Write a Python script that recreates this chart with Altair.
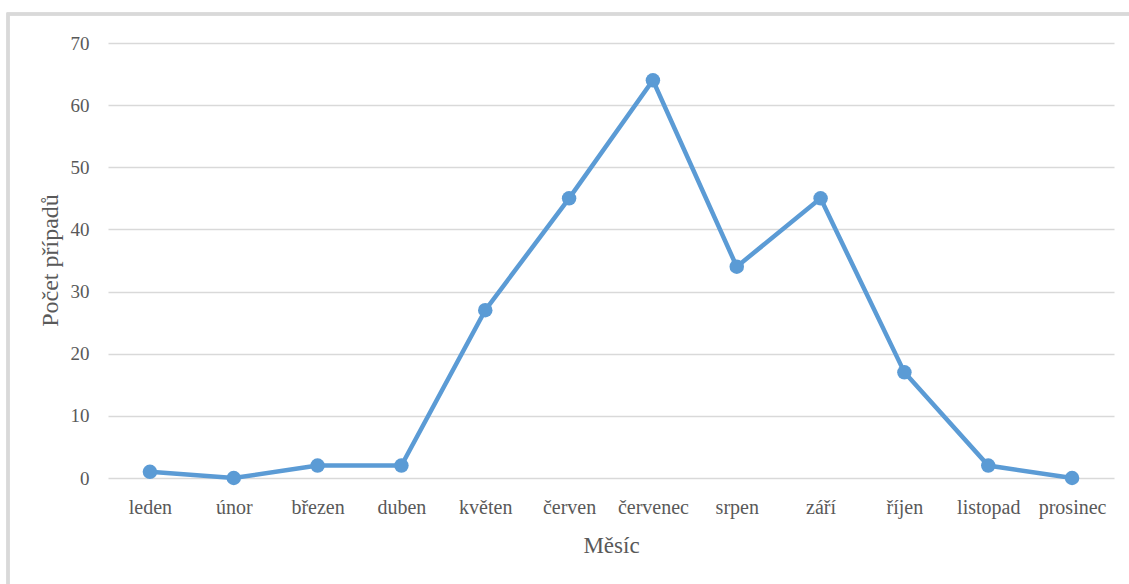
import altair as alt
import pandas as pd

# Monthly case counts
months = ["leden", "únor", "březen", "duben", "květen", "červen",
          "červenec", "srpen", "září", "říjen", "listopad", "prosinec"]
cases = [1, 0, 2, 2, 27, 45, 64, 34, 45, 17, 2, 0]

df = pd.DataFrame({"Měsíc": months, "Počet případů": cases})

FONT = "Liberation Serif"
TEXT = "#595959"
BLUE = "#5b9bd5"

x_enc = alt.X(
    "Měsíc:N",
    sort=months,
    scale=alt.Scale(type="point", padding=0.5),
    axis=alt.Axis(
        title="Měsíc",
        labelAngle=0,
        labelPadding=19,
        labelFontSize=20,
        titleFontSize=23,
        titleY=67,
        titleBaseline="middle",
        domain=False,
        ticks=False,
        grid=False,
    ),
)
y_enc = alt.Y(
    "Počet případů:Q",
    scale=alt.Scale(domain=[0, 70], nice=False),
    axis=alt.Axis(
        title="Počet případů",
        values=[0, 10, 20, 30, 40, 50, 60, 70],
        labelPadding=19,
        labelFontSize=19,
        titleFontSize=24,
        titleAngle=270,
        titleX=-58,
        titleY=217,
        titleAlign="center",
        titleBaseline="middle",
        domain=False,
        ticks=False,
        gridColor="#d9d9d9",
        gridWidth=1.5,
    ),
)

# outer frame of the chart area
frame = alt.Chart(df).mark_rect(
    fill=None, stroke="#d9d9d9", strokeWidth=2.5, clip=False
).encode(
    x=alt.value(-100), x2=alt.value(1040),
    y=alt.value(-29), y2=alt.value(560),
)

line = alt.Chart(df).mark_line(color=BLUE, strokeWidth=4.5).encode(x=x_enc, y=y_enc)
points = alt.Chart(df).mark_point(
    filled=True, color=BLUE, size=210, opacity=1
).encode(x=x_enc, y=y_enc)

chart = alt.layer(frame, line, points).properties(
    width=1006,
    height=435,
    background="white",
    autosize=alt.AutoSizeParams(type="none"),
    padding={"left": 108, "top": 43, "right": 15, "bottom": 106},
).configure_view(stroke=None).configure_axis(
    labelFont=FONT, titleFont=FONT, labelColor=TEXT, titleColor=TEXT,
    titleFontWeight="normal",
)

chart.save("out.html", embed_options={"renderer": "svg", "actions": False})
